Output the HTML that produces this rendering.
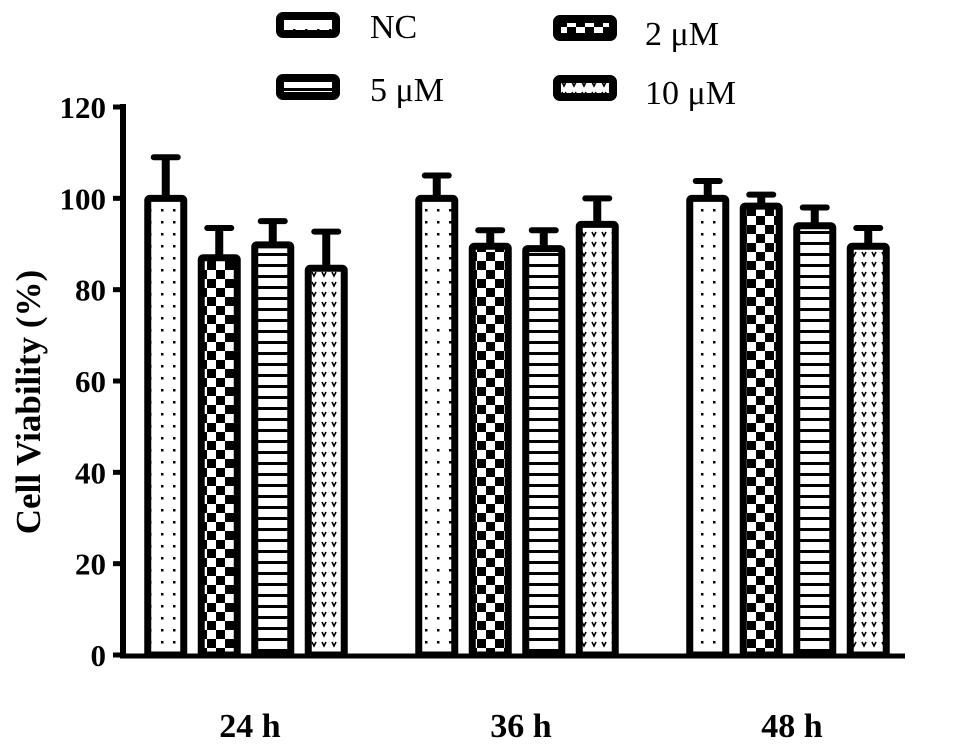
<!DOCTYPE html>
<html><head><meta charset="utf-8"><style>
html,body{margin:0;padding:0;background:#fff;}
svg{display:block;font-family:"Liberation Serif",serif;}
</style></head><body>
<svg id="chart" width="969" height="751" viewBox="0 0 969 751">
<defs>
<pattern id="p-dots" width="12" height="12" patternUnits="userSpaceOnUse"><rect width="12" height="12" fill="#fff"/><rect x="5" y="5" width="2.5" height="2.5" fill="#000"/></pattern>
<pattern id="p-check" width="18" height="18" patternUnits="userSpaceOnUse"><rect width="18" height="18" fill="#fff"/><rect width="9" height="9" fill="#000"/><rect x="9" y="9" width="9" height="9" fill="#000"/></pattern>
<pattern id="p-stripe" width="10" height="11" patternUnits="userSpaceOnUse"><rect width="10" height="11" fill="#fff"/><rect y="0" width="10" height="3" fill="#000"/></pattern>
<pattern id="p-v" width="10" height="10" patternUnits="userSpaceOnUse"><rect width="10" height="10" fill="#fff"/><path d="M2 2 L4 6 L6 2" stroke="#000" stroke-width="1.6" fill="none"/></pattern>
</defs>
<g id="axes"></g>
<g id="bars"></g>
<g id="legend"></g>
</svg>
<script>
const categories = ["24 h", "36 h", "48 h"];
const seriesNames = ["NC", "2 \u03bcM", "5 \u03bcM", "10 \u03bcM"];
const nc = [100, 100, 100];
const um2 = [87, 89.5, 98.3];
const um5 = [89.8, 89, 94];
const um10 = [84.7, 94.3, 89.5];
const ncErr = [9, 5, 3.8];
const um2Err = [6.5, 3.5, 2.5];
const um5Err = [5.2, 4, 4];
const um10Err = [8, 5.7, 4];
const yTicks = [0, 20, 40, 60, 80, 100, 120];

const NS = "http://www.w3.org/2000/svg";
const fills = ["url(#p-dots)", "url(#p-check)", "url(#p-stripe)", "url(#p-v)"];
const allVals = [nc, um2, um5, um10];
const allErr = [ncErr, um2Err, um5Err, um10Err];
const y0 = 655, yTop = 107, yMax = 120;
function yScale(v){ return y0 - (v / yMax) * (y0 - yTop); }
const groupCenters0 = 246, groupStep = 271, barStep = 53.5, barW = 36;
function xCenter(ci, si){ return groupCenters0 + ci * groupStep + (si - 1.5) * barStep; }
function mk(tag, attrs, parent){ const e = document.createElementNS(NS, tag); for (const k in attrs) e.setAttribute(k, attrs[k]); parent.appendChild(e); return e; }

const axes = document.getElementById("axes");
const yAxis = mk("line", {x1:123, y1:104, x2:123, y2:658, stroke:"#000", "stroke-width":6}, axes);


const xAxis = mk("line", {x1:120, y1:656, x2:905, y2:656, stroke:"#000", "stroke-width":5}, axes);


yTicks.forEach(t => {
  const y = yScale(t);
  const tk = mk("line", {x1:113, y1:y, x2:123, y2:y, stroke:"#000", "stroke-width":5}, axes);
  
  
  const tl = mk("text", {x:106, y:y + 11, "text-anchor":"end", "font-size":31, "font-weight":"bold"}, axes);
  tl.textContent = t;
  
  
});
const yt = mk("text", {x:0, y:0, transform:"translate(40,402) rotate(-90)", "text-anchor":"middle", "font-size":35, "font-weight":"bold"}, axes);
yt.textContent = "Cell Viability (%)";


categories.forEach((c, ci) => {
  const t = mk("text", {x:groupCenters0 + ci * groupStep + 4, y:737, "text-anchor":"middle", "font-size":34, "font-weight":"bold"}, axes);
  t.textContent = c;
  
  
});

const bars = document.getElementById("bars");
categories.forEach((c, ci) => {
  allVals.forEach((vals, si) => {
    const xc = xCenter(ci, si), v = vals[ci], e = allErr[si][ci];
    const yv = yScale(v), ye = yScale(v + e);
    const stem = mk("line", {x1:xc, y1:ye, x2:xc, y2:yv, stroke:"#000", "stroke-width":8}, bars);
    
    
    const cap = mk("line", {x1:xc - 12, y1:ye, x2:xc + 12, y2:ye, stroke:"#000", "stroke-width":6, "stroke-linecap":"round"}, bars);
    
    
    const r = mk("rect", {x:xc - barW/2, y:yv, width:barW, height:y0 - yv, fill:fills[si], stroke:"#000", "stroke-width":7, rx:2}, bars);
    
    
  });
});

const legend = document.getElementById("legend");
const legPos = [[276,12,370,38],[553,15,645,45],[276,74,370,101],[553,75,645,104]];
seriesNames.forEach((n, si) => {
  const p = legPos[si];
  const b = mk("rect", {x:p[0] + 4, y:p[1] + 4, width:56, height:18, fill:fills[si], stroke:"#000", "stroke-width":8, rx:3}, legend);
  
  
  const t = mk("text", {x:p[2], y:p[3], "font-size":34}, legend);
  t.textContent = n;
  
  
});
</script>
</body></html>
